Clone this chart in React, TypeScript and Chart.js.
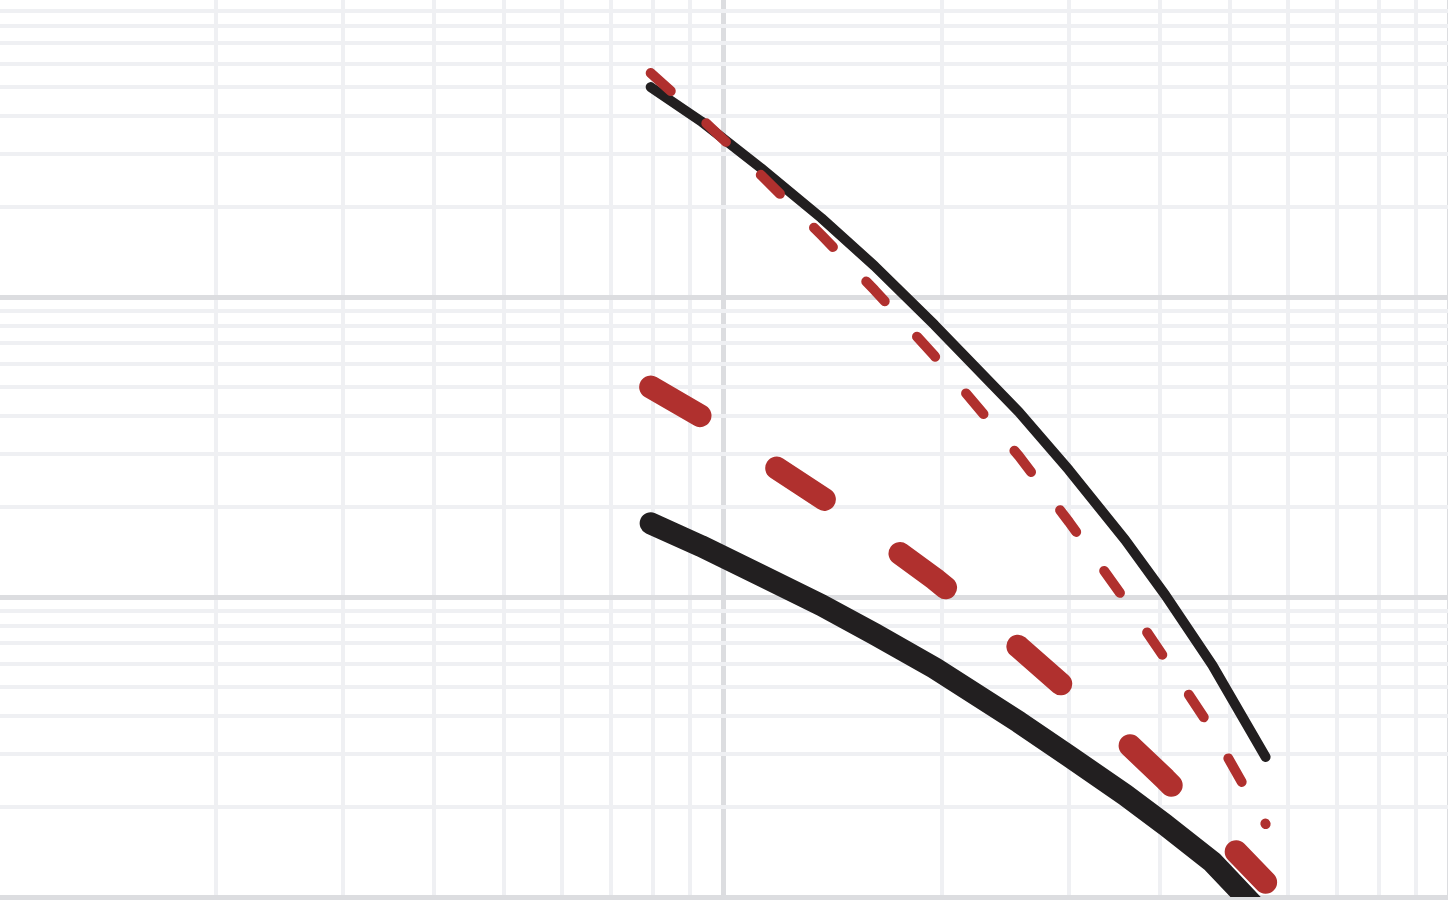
import React, { useEffect, useRef } from "react";
import { Chart, registerables } from "chart.js";

Chart.register(...registerables);

// Shared x positions (log axis)
const xValues = [7.95, 9.32, 11.28, 13.66, 16.17, 19.56, 25.56, 29.96, 35.8, 40.66, 47.2, 55.9];

// Series values (log axis)
const thinRedDashed = [558, 395, 255, 161, 105.5, 63.6, 29.5, 17.8, 9.77, 6.21, 3.6, 1.75];
const thinBlack = [501, 386, 269, 183.4, 126.9, 80.7, 41.4, 26.5, 15.5, 10.15, 5.93, 2.93];
const thickRedDashed = [50.1, 40.1, 29.1, 21.5, 16.1, 11.5, 6.81, 4.86, 3.31, 2.47, 1.71, 1.12];
const thickBlack = [17.6, 14.8, 11.8, 9.4, 7.53, 5.8, 3.83, 2.95, 2.19, 1.74, 1.31, 0.85];

// Grid tick values
const xTicks = [1, 2, 3, 4, 5, 6, 7, 8, 9, 10, 20, 30, 40, 50, 60, 70, 80, 90, 100];
const yTicks = [
  1, 2, 3, 4, 5, 6, 7, 8, 9,
  10, 20, 30, 40, 50, 60, 70, 80, 90,
  100, 200, 300, 400, 500, 600, 700, 800, 900, 1000,
];

const RED = "#b0302e";
const BLACK = "#221f20";

const isPow10 = (v: number) => Math.abs(Math.log10(v) - Math.round(Math.log10(v))) < 1e-9;

const pts = (ys: number[]) => xValues.map((x, i) => ({ x, y: ys[i] }));

const gridOpts = {
  drawTicks: false,
  color: (ctx: any) => (ctx.tick && isPow10(ctx.tick.value) ? "#dcdde0" : "#eff0f3"),
  lineWidth: (ctx: any) => (ctx.tick && isPow10(ctx.tick.value) ? 5 : 4),
};

const lineBase = {
  borderCapStyle: "round",
  borderJoinStyle: "round",
  pointRadius: 0,
  fill: false,
  tension: 0,
};

export default function App() {
  const ref = useRef<HTMLCanvasElement | null>(null);

  useEffect(() => {
    document.body.style.margin = "0";
    document.documentElement.style.overflow = "hidden";
    const canvas = ref.current;
    if (!canvas) return;
    const chart = new Chart(canvas, {
      type: "line",
      data: {
        datasets: [
          {
            ...lineBase,
            data: pts(thinRedDashed),
            borderColor: RED,
            borderWidth: 10,
            borderDash: [27, 48],
          } as any,
          {
            ...lineBase,
            data: pts(thinBlack),
            borderColor: BLACK,
            borderWidth: 10,
          } as any,
          {
            ...lineBase,
            data: pts(thickRedDashed),
            borderColor: RED,
            borderWidth: 23,
            borderDash: [57, 93],
          } as any,
          {
            ...lineBase,
            data: pts(thickBlack),
            borderColor: BLACK,
            borderWidth: 22,
          } as any,
        ],
      },
      options: {
        responsive: false,
        animation: false,
        layout: { padding: { left: 0, right: 0, top: 0, bottom: 3 } },
        plugins: { legend: { display: false }, tooltip: { enabled: false } },
        scales: {
          x: {
            type: "logarithmic",
            min: 1,
            max: 100,
            ticks: { display: false },
            border: { display: false },
            grid: gridOpts as any,
            afterBuildTicks: (scale: any) => {
              scale.ticks = xTicks.map((v) => ({ value: v }));
            },
          },
          y: {
            type: "logarithmic",
            min: 1,
            max: 1000,
            ticks: { display: false },
            border: { display: false },
            grid: gridOpts as any,
            afterBuildTicks: (scale: any) => {
              scale.ticks = yTicks.map((v) => ({ value: v }));
            },
          },
        },
      },
    });
    return () => chart.destroy();
  }, []);

  return (
    <div
      style={{
        position: "fixed",
        left: 0,
        top: 0,
        width: 1448,
        height: 900,
        overflow: "hidden",
        background: "#ffffff",
      }}
    >
      <canvas
        ref={ref}
        width={1452}
        height={903}
        style={{ position: "absolute", left: -3, top: -3, width: 1452, height: 903 }}
      />
    </div>
  );
}
